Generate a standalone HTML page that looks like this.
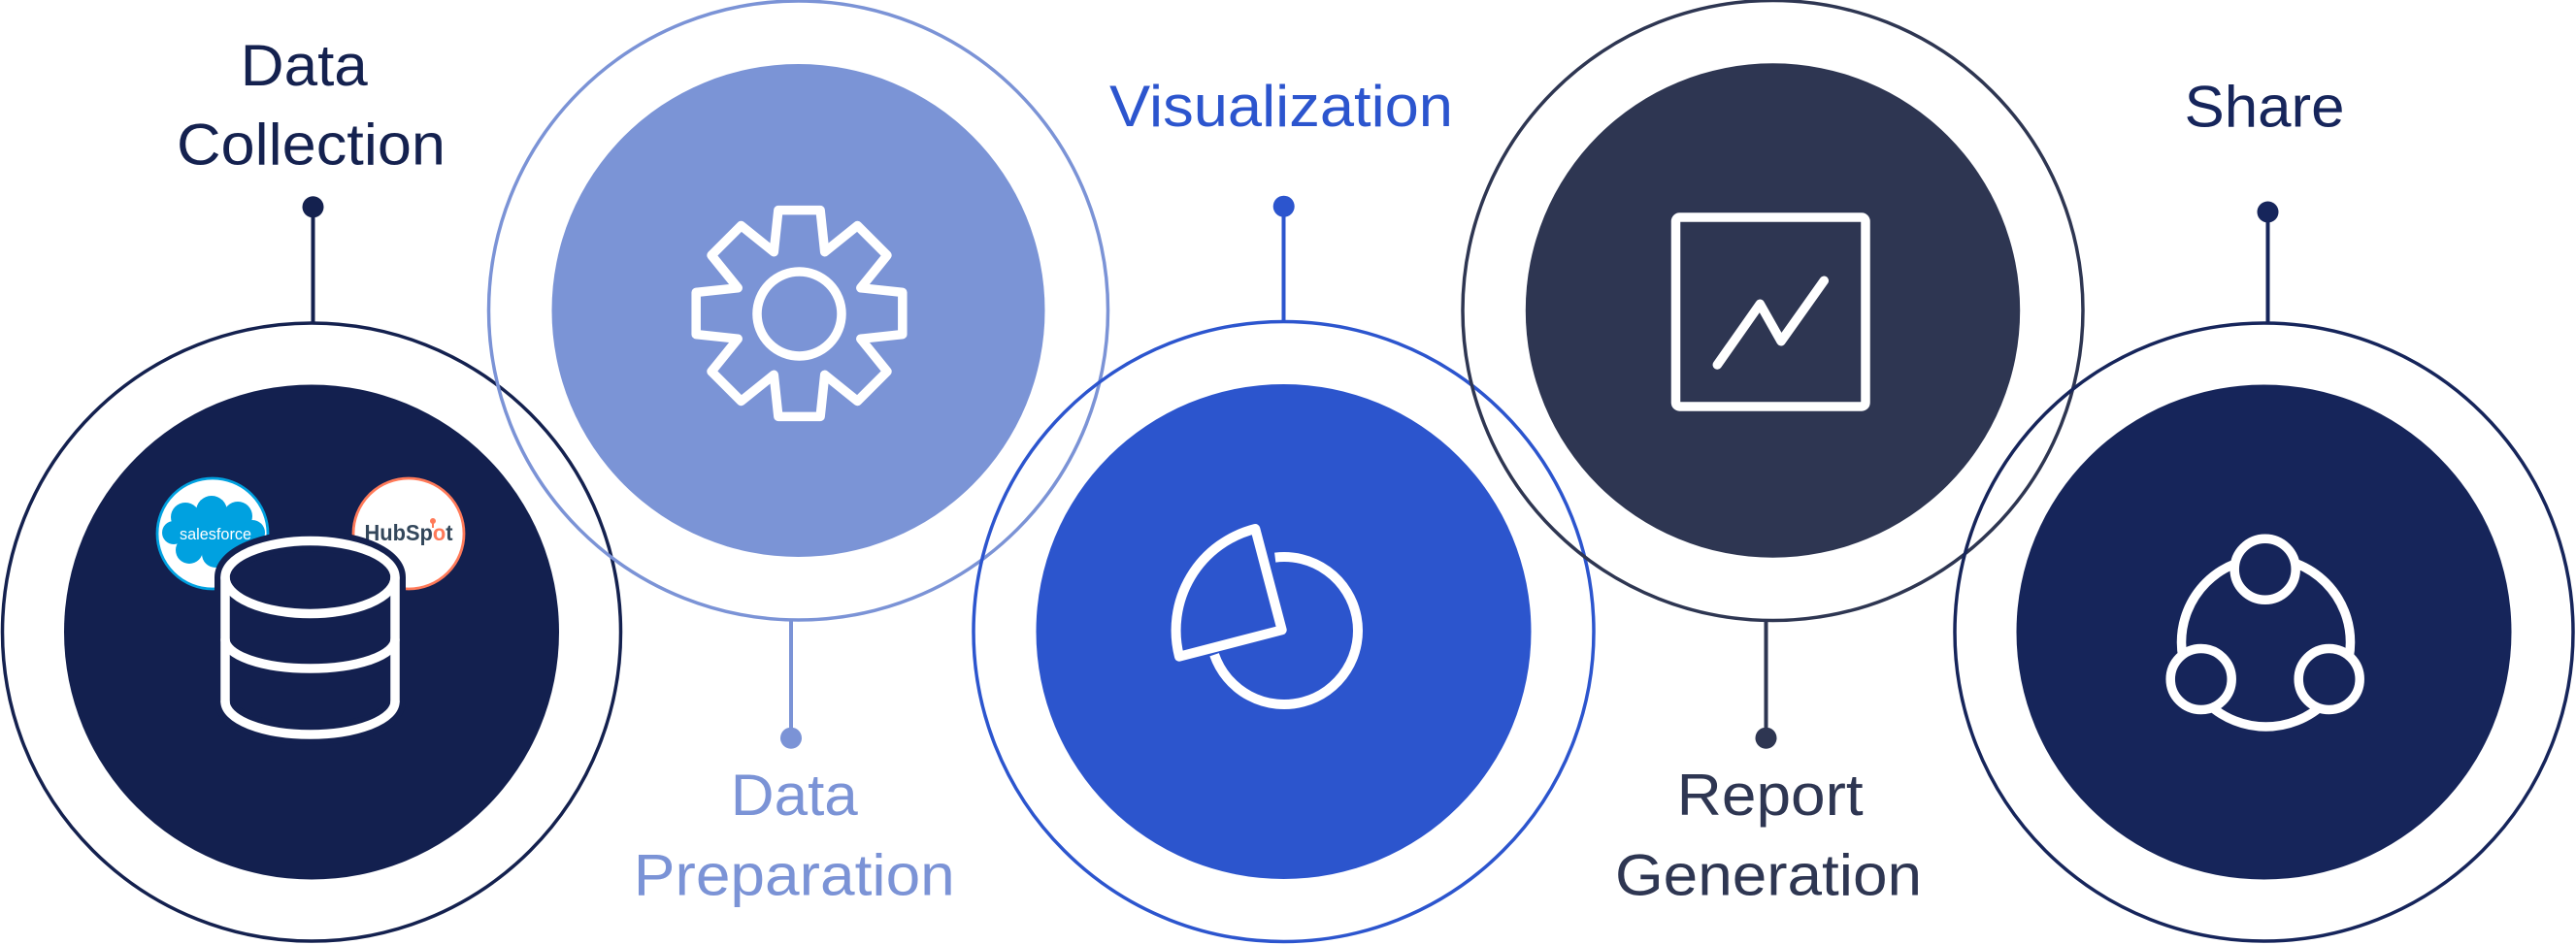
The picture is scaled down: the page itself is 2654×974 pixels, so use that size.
<!DOCTYPE html>
<html>
<head>
<meta charset="utf-8">
<style>
  html, body { margin: 0; padding: 0; background: #ffffff; }
  body { width: 2654px; height: 974px; overflow: hidden; }
  svg { display: block; }
  .lbl { font-family: "Liberation Sans", "DejaVu Sans", sans-serif; font-size: 60px; }
</style>
</head>
<body>
<svg width="2654" height="974" viewBox="0 0 2654 974" xmlns="http://www.w3.org/2000/svg">
  <rect x="0" y="0" width="2654" height="974" fill="#ffffff"/>

  <!-- ===== Circle 1: Data Collection ===== -->
  <circle cx="321" cy="651.5" r="318.5" fill="none" stroke="#14214F" stroke-width="3.5"/>
  <circle cx="321" cy="651.5" r="255" fill="#13204F"/>
  <line x1="322.5" y1="213" x2="322.5" y2="334" stroke="#14214F" stroke-width="4"/>
  <circle cx="322.5" cy="213.3" r="11" fill="#14214F"/>
  <text class="lbl" x="313.3" y="88" text-anchor="middle" fill="#14214F" textLength="131" lengthAdjust="spacingAndGlyphs">Data</text>
  <text class="lbl" x="320.5" y="169.5" text-anchor="middle" fill="#14214F" textLength="277" lengthAdjust="spacingAndGlyphs">Collection</text>

  <!-- Salesforce logo -->
  <circle cx="219" cy="550" r="57" fill="#ffffff" stroke="#00A1E0" stroke-width="2.8"/>
  <g fill="#00A1E0">
    <ellipse cx="220" cy="550" rx="42" ry="22"/>
    <circle cx="191" cy="533" r="15"/>
    <circle cx="218" cy="527" r="16"/>
    <circle cx="245" cy="532" r="15"/>
    <circle cx="260" cy="549" r="13"/>
    <circle cx="249" cy="566" r="14"/>
    <circle cx="222" cy="571" r="14"/>
    <circle cx="195" cy="567" r="14"/>
    <circle cx="179" cy="549" r="12"/>
  </g>
  <text x="222" y="556" text-anchor="middle" fill="#ffffff" font-family="Liberation Sans, sans-serif" font-size="17" textLength="74" lengthAdjust="spacingAndGlyphs">salesforce</text>

  <!-- HubSpot logo -->
  <circle cx="421" cy="550" r="57" fill="#ffffff" stroke="#FF7A59" stroke-width="2.8"/>
  <text x="421" y="557" text-anchor="middle" fill="#33475B" font-family="Liberation Sans, sans-serif" font-weight="bold" font-size="23" textLength="91" lengthAdjust="spacingAndGlyphs">HubSp<tspan fill="#FF7A59">o</tspan>t</text>
  <g stroke="#FF7A59" stroke-width="2" fill="#FF7A59">
    <line x1="446" y1="544" x2="446" y2="538"/>
    <circle cx="446" cy="537" r="2"/>
  </g>

  <!-- Database icon: navy halo then white strokes -->
  <path d="M232,595 A87.5,37.5 0 0 1 407,595 L407,723 A87.5,34 0 0 1 232,723 Z" fill="#13204F" stroke="#13204F" stroke-width="22" stroke-linejoin="round"/>
  <g fill="none" stroke="#ffffff" stroke-width="9.5" stroke-linecap="round">
    <ellipse cx="319.5" cy="595" rx="87.5" ry="37.5"/>
    <line x1="232" y1="595" x2="232" y2="723"/>
    <line x1="407" y1="595" x2="407" y2="723"/>
    <path d="M232,659 A87.5,30 0 0 0 407,659"/>
    <path d="M232,723 A87.5,34 0 0 0 407,723"/>
  </g>

  <!-- ===== Circle 2: Data Preparation ===== -->
  <circle cx="822.5" cy="320" r="319" fill="none" stroke="#7B93D6" stroke-width="3.5"/>
  <circle cx="822.5" cy="320" r="254" fill="#7B94D6"/>
  <line x1="815" y1="638" x2="815" y2="760" stroke="#7B93D6" stroke-width="4"/>
  <circle cx="815" cy="760.7" r="11" fill="#7B93D6"/>
  <text class="lbl" x="818.3" y="840" text-anchor="middle" fill="#7B93D6" textLength="131" lengthAdjust="spacingAndGlyphs">Data</text>
  <text class="lbl" x="818.3" y="922.7" text-anchor="middle" fill="#7B93D6" textLength="331" lengthAdjust="spacingAndGlyphs">Preparation</text>

  <!-- Gear icon -->
  <g fill="none" stroke="#ffffff" stroke-width="9.5" stroke-linejoin="round">
    <polygon points="886.79,296.79 929.82,301.37 929.82,344.63 886.79,349.21 913.98,382.89 883.39,413.48 849.71,386.29 845.13,429.32 801.87,429.32 797.29,386.29 763.61,413.48 733.02,382.89 760.21,349.21 717.18,344.63 717.18,301.37 760.21,296.79 733.02,263.11 763.61,232.52 797.29,259.71 801.87,216.68 845.13,216.68 849.71,259.71 883.39,232.52 913.98,263.11"/>
    <circle cx="823.5" cy="323.5" r="43.5"/>
  </g>

  <!-- ===== Circle 3: Visualization ===== -->
  <circle cx="1322.5" cy="651" r="319.5" fill="none" stroke="#2C55CE" stroke-width="3.5"/>
  <circle cx="1322.5" cy="651" r="255" fill="#2C55CD"/>
  <line x1="1322.5" y1="213" x2="1322.5" y2="332" stroke="#2C55CE" stroke-width="4"/>
  <circle cx="1322.7" cy="212.7" r="11" fill="#2C55CE"/>
  <text class="lbl" x="1320" y="130" text-anchor="middle" fill="#2C55CE" textLength="354" lengthAdjust="spacingAndGlyphs">Visualization</text>

  <!-- Pie icon -->
  <g fill="none" stroke="#ffffff" stroke-width="10" stroke-linejoin="round" stroke-linecap="butt">
    <path d="M1313.7,574.6 A76,76 0 1 1 1251.1,674.7"/>
    <path d="M1320.7,649.3 L1293.3,545 A108,108 0 0 0 1215,676.7 Z"/>
  </g>

  <!-- ===== Circle 4: Report Generation ===== -->
  <circle cx="1826.5" cy="320" r="319.5" fill="none" stroke="#2E3652" stroke-width="3.5"/>
  <circle cx="1826.5" cy="320" r="254.7" fill="#2E3652"/>
  <line x1="1819.5" y1="638" x2="1819.5" y2="760" stroke="#2E3652" stroke-width="4"/>
  <circle cx="1819.5" cy="760.7" r="11" fill="#2E3652"/>
  <text class="lbl" x="1823.7" y="840" text-anchor="middle" fill="#2E3652" textLength="192" lengthAdjust="spacingAndGlyphs">Report</text>
  <text class="lbl" x="1822" y="922.7" text-anchor="middle" fill="#2E3652" textLength="316" lengthAdjust="spacingAndGlyphs">Generation</text>

  <!-- Chart icon -->
  <g fill="none" stroke="#ffffff" stroke-width="9.5" stroke-linejoin="round" stroke-linecap="round">
    <rect x="1726.5" y="224" width="195.5" height="195" rx="4"/>
    <polyline points="1769.3,376 1813.3,313.3 1835,351.7 1879.3,289.3"/>
  </g>

  <!-- ===== Circle 5: Share ===== -->
  <circle cx="2332.5" cy="651.5" r="318.5" fill="none" stroke="#16255B" stroke-width="3.5"/>
  <circle cx="2332.5" cy="651.5" r="255" fill="#16255A"/>
  <line x1="2336.5" y1="218" x2="2336.5" y2="334" stroke="#16255B" stroke-width="4"/>
  <circle cx="2336.5" cy="218.5" r="11" fill="#16255B"/>
  <text class="lbl" x="2333" y="130.4" text-anchor="middle" fill="#16255B" textLength="165" lengthAdjust="spacingAndGlyphs">Share</text>

  <!-- Share icon -->
  <g stroke="#ffffff" stroke-width="9.5">
    <circle cx="2334.5" cy="662" r="87" fill="none"/>
    <circle cx="2333.7" cy="586.7" r="31.5" fill="#16255A"/>
    <circle cx="2267.7" cy="700" r="31.5" fill="#16255A"/>
    <circle cx="2399.7" cy="700" r="31.5" fill="#16255A"/>
  </g>
</svg>
</body>
</html>
